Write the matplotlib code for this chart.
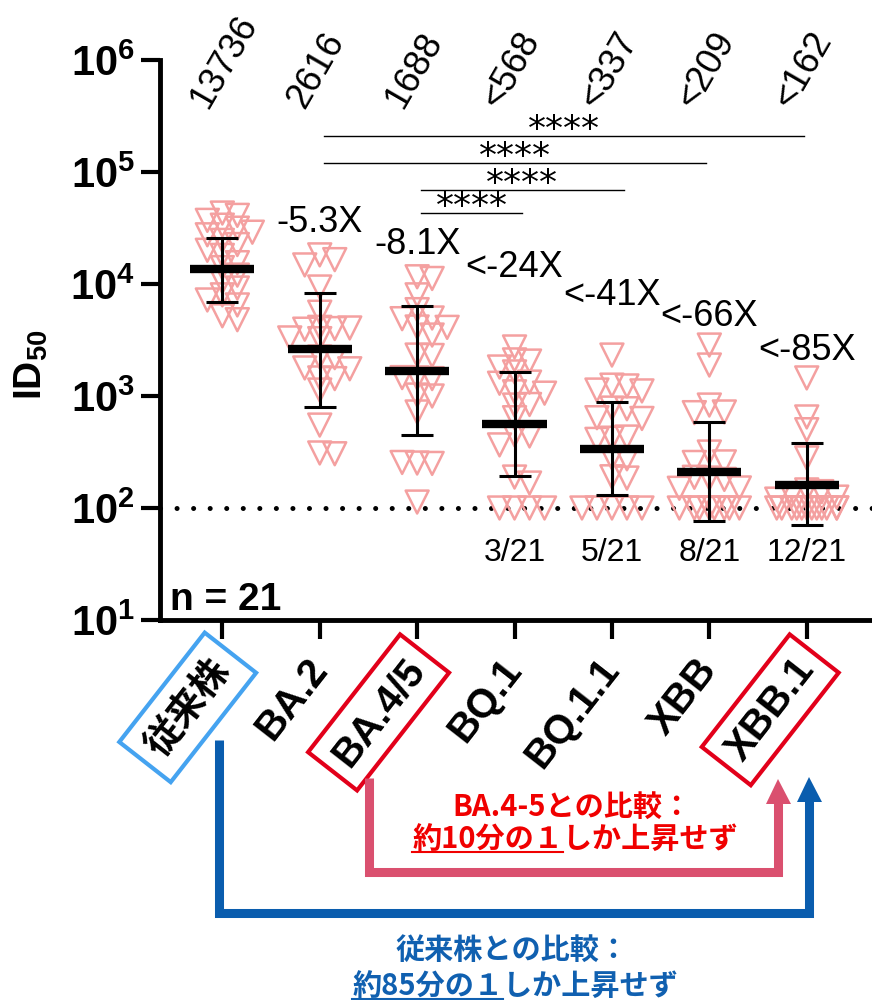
import numpy as np
import matplotlib
matplotlib.use("Agg")
import matplotlib.pyplot as plt
import matplotlib.transforms as mtransforms
from matplotlib.lines import Line2D
from matplotlib.ticker import NullLocator

plt.rcParams['font.family'] = ['Liberation Sans', 'Noto Sans CJK JP', 'DejaVu Sans']
plt.rcParams['mathtext.fontset'] = 'custom'
plt.rcParams['mathtext.rm'] = 'Liberation Sans'
plt.rcParams['mathtext.bf'] = 'Liberation Sans:bold'

# ---------------- data ----------------
variants = ['従来株', 'BA.2', 'BA.4/5', 'BQ.1', 'BQ.1.1', 'XBB', 'XBB.1']
gmt = [13736, 2616, 1688, 568, 337, 209, 162]
gmt_labels = ['13736', '2616', '1688', '<568', '<337', '<209', '<162']
sd_low = [6900, 800, 450, 195, 131, 77, 70]
sd_high = [26000, 8300, 6300, 1650, 890, 580, 380]
fold_labels = ['', '-5.3X', '-8.1X', '<-24X', '<-41X', '<-66X', '<-85X']
below_lod = ['', '', '', '3/21', '5/21', '8/21', '12/21']

id50_wt = [43000, 41000, 37000, 33500, 31500, 29000, 27500, 24500, 22500, 20000, 18000,
           15500, 14000, 12000, 10500, 9200, 8000, 7200, 6500, 5200, 4800]
id50_ba2 = [18200, 16500, 14800, 9400, 5600, 4100, 4000, 3950, 4050, 3300, 3250,
            2230, 2200, 1780, 1750, 1450, 1430, 1130, 550, 310, 305]
id50_ba45 = [11600, 11200, 8000, 5900, 4970, 4900, 4130, 4100, 3500, 2320, 2300,
             1450, 1430, 1460, 1020, 1000, 720, 252, 250, 255, 113]
id50_bq1 = [2740, 2100, 2050, 1815, 1640, 1330, 1300, 1090, 1060, 830, 840,
            640, 450, 440, 366, 189, 167, 100, 100, 100, 100]
id50_bq11 = [2320, 1250, 1230, 1130, 1110, 780, 770, 640, 630, 420, 430,
             410, 280, 275, 190, 185, 100, 100, 100, 100, 100]
id50_xbb = [2850, 1890, 830, 720, 710, 316, 258, 255, 185, 180, 188,
            151, 150, 100, 100, 100, 100, 100, 100, 100, 100]
id50_xbb1 = [1450, 650, 500, 280, 145, 140, 130, 125, 120, 100, 100,
             100, 100, 100, 100, 100, 100, 100, 100, 100, 100]
groups = [id50_wt, id50_ba2, id50_ba45, id50_bq1, id50_bq11, id50_xbb, id50_xbb1]

# significance comparisons (group pairs)
brackets = [(1, 6), (1, 5), (2, 4), (2, 3)]

pink = '#F4A0A0'
arrow_pink = '#DA506F'
arrow_blue = '#0A5DAE'

# ---------------- figure ----------------
fig = plt.figure(figsize=(8.72, 10), dpi=100)
ax = fig.add_axes([160 / 872, 0.38, 712 / 872, 0.56])
ax.set_yscale('log')
ax.set_ylim(10, 1e6)
ax.set_xlim(-0.64, 6.67)


def swarm(vals, xc):
    # simple deterministic beeswarm in pixel space
    pts = ax.transData.transform(np.column_stack([np.full(len(vals), xc), vals]))
    per_unit = ax.transData.transform((xc + 1, 1))[0] - ax.transData.transform((xc, 1))[0]
    cands = [0] + [s * k * 5 for k in range(1, 7) for s in (1, -1)]
    placed = []
    offs = []
    for y in pts[:, 1]:
        costs = [sum(max(0, 12 - abs(c - px)) * max(0, 12 - abs(y - py)) for px, py in placed)
                 for c in cands]
        c = cands[int(np.argmin(costs))]
        placed.append((c, y))
        offs.append(c / per_unit)
    return xc + np.array(offs)


for i, vals in enumerate(groups):
    ax.scatter(swarm(vals, i), vals, marker='v', s=16.5 ** 2, facecolors='none',
               edgecolors=pink, linewidths=1.8, zorder=2)

x = np.arange(len(variants))
gmt_a = np.array(gmt)
ax.errorbar(x, gmt_a, yerr=[gmt_a - np.array(sd_low), np.array(sd_high) - gmt_a],
            fmt='none', ecolor='black', elinewidth=2.2, capsize=11.5, capthick=2.2, zorder=3)
ax.hlines(gmt_a, x - 0.33, x + 0.33, color='black', lw=6, zorder=4)

ax.axhline(100, color='black', lw=3.6, linestyle=(0, (0.01, 3.3)),
           dash_capstyle='round', zorder=1)

# axes styling
for s in ['top', 'right']:
    ax.spines[s].set_visible(False)
for s in ['left', 'bottom']:
    ax.spines[s].set_linewidth(3.5)
ax.yaxis.set_minor_locator(NullLocator())
ax.set_yticks([1e1, 1e2, 1e3, 1e4, 1e5, 1e6],
              [r'$\mathbf{10^{%d}}$' % k for k in range(1, 7)])
ax.tick_params(axis='y', length=14, width=3, labelsize=30, pad=4)
ax.set_xticks(x, variants)
ax.tick_params(axis='x', length=14, width=3, labelsize=29, pad=17)
for t in ax.get_xticklabels():
    t.set_rotation(52)
    t.set_ha('right')
    t.set_va('center')
    t.set_rotation_mode('anchor')
    t.set_fontweight('bold')
lbls = ax.get_xticklabels()
lbls[0].set_fontfamily(['Noto Sans CJK JP'])
lbls[0].set_fontsize(27)
lbls[0].set_bbox(dict(boxstyle='square,pad=0.35', fc='white', ec='#45A3F0', lw=3))
for k in (2, 6):
    lbls[k].set_bbox(dict(boxstyle='square,pad=0.3', fc='white', ec='#E2001A', lw=3))

ax.set_ylabel(r'$\mathbf{ID_{50}}$', fontsize=28)
ax.yaxis.set_label_coords(-0.155, 0.455)

# annotations
for i, lab in enumerate(gmt_labels):
    ax.text(i - 0.24, 10 ** 5.6, lab, rotation=60, ha='left', va='center',
            rotation_mode='anchor', fontsize=26)

fold_y = [None, 10 ** 4.55, 10 ** 4.35, 10 ** 4.15, 10 ** 3.90, 10 ** 3.71, 10 ** 3.41]
for i, lab in enumerate(fold_labels):
    if lab:
        ax.text(i, fold_y[i], lab, ha='center', va='center', fontsize=26)

for i, lab in enumerate(below_lod):
    if lab:
        ax.text(i, 10 ** 1.6, lab, ha='center', va='center', fontsize=23)

ax.text(0.014, 0.018, 'n = 21', transform=ax.transAxes, fontsize=28,
        fontweight='bold', va='baseline')

sig_y = [10 ** 5.32, 10 ** 5.08, 10 ** 4.84, 10 ** 4.63]
sig_x_end = [5.97, 4.97, 4.12, 3.08]
for (a, b), yy, xe in zip(brackets, sig_y, sig_x_end):
    x0 = a + 0.04
    ax.plot([x0, xe], [yy, yy], color='black', lw=1, clip_on=False)
    ax.annotate('****', xy=((x0 + xe) / 2, yy), xytext=(0, 4.5), textcoords='offset points',
                ha='center', va='center', fontsize=26, family='DejaVu Sans')

# arrows below the axis (x in data, y in figure fraction)
trans = mtransforms.blended_transform_factory(ax.transData, fig.transFigure)
ax.plot([1.51, 1.51, 5.71, 5.71], [1 - 0.778, 1 - 0.872, 1 - 0.872, 1 - 0.80],
        transform=trans, clip_on=False, lw=6.5, color=arrow_pink,
        solid_joinstyle='miter', solid_capstyle='butt')
ax.plot([5.71], [1 - 0.791], transform=trans, clip_on=False, marker='^', ms=18,
        color=arrow_pink, mew=0)
ax.plot([-0.03, -0.03, 6.02, 6.02], [1 - 0.740, 1 - 0.913, 1 - 0.913, 1 - 0.80],
        transform=trans, clip_on=False, lw=6.5, color=arrow_blue,
        solid_joinstyle='miter', solid_capstyle='butt')
ax.plot([6.02], [1 - 0.789], transform=trans, clip_on=False, marker='^', ms=18,
        color=arrow_blue, mew=0)

jp = dict(ha='center', va='center', fontsize=21, fontweight='bold',
          family=['Noto Sans CJK JP', 'DejaVu Sans'])
fig.text(572 / 872, 1 - 0.807, 'BA.4-5との比較：', color='#F00000', **jp)
t_red = fig.text(575 / 872, 1 - 0.840, '約10分の１しか上昇せず', color='#F00000', **jp)
fig.text(512 / 872, 1 - 0.950, '従来株との比較：', color='#1060B0', **jp)
t_blue = fig.text(515 / 872, 1 - 0.987, '約85分の１しか上昇せず', color='#1060B0', **jp)

renderer = fig.canvas.get_renderer()


def underline(t, prefix, color):
    bb = t.get_window_extent(renderer)
    tmp = fig.text(0, 0, prefix, **jp)
    w = tmp.get_window_extent(renderer).width
    tmp.remove()
    (fx0, fy), (fx1, _) = fig.transFigure.inverted().transform(
        [(bb.x0, bb.y0 + 3), (bb.x0 + w, bb.y0 + 3)])
    fig.add_artist(Line2D([fx0, fx1], [fy, fy], color=color, lw=1.5,
                          transform=fig.transFigure))


underline(t_red, '約10分の１', '#F00000')
underline(t_blue, '約85分の１', '#1060B0')

fig.savefig('out.png', dpi=100)
